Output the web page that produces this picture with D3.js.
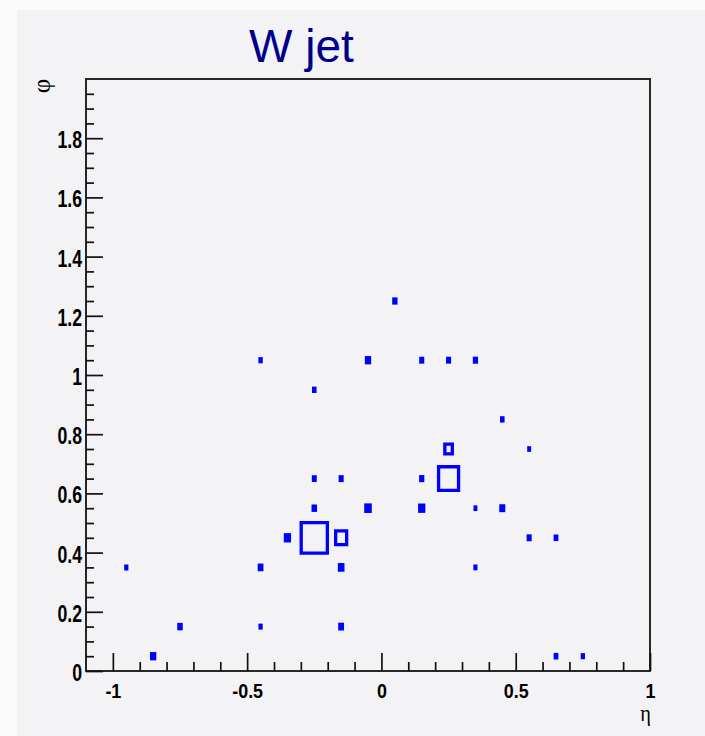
<!DOCTYPE html>
<html>
<head>
<meta charset="utf-8">
<script src="https://cdn.jsdelivr.net/npm/d3@7"></script>
<style>
  html, body { margin: 0; padding: 0; background: #fbfbfc; }
  svg { display: block; }
</style>
</head>
<body>
<svg id="chart" width="705" height="736"></svg>
<script>
// Jet constituents binned in (eta, phi): bin centres and deposited content
const etaCentres = [ 0.05, -0.45, -0.05, 0.15, 0.25, 0.35, -0.25, 0.45, 0.55, 0.25,
                    -0.25, -0.15, 0.15, 0.25, -0.25, -0.05, 0.15, 0.35, 0.45, -0.35,
                    -0.25, -0.15, 0.55, 0.65, -0.95, -0.45, -0.15, 0.35, -0.75, -0.45,
                    -0.15, -0.85, 0.65, 0.75];
const phiCentres = [ 1.25, 1.05, 1.05, 1.05, 1.05, 1.05, 0.95, 0.85, 0.75, 0.75,
                     0.65, 0.65, 0.65, 0.65, 0.55, 0.55, 0.55, 0.55, 0.55, 0.45,
                     0.45, 0.45, 0.45, 0.45, 0.35, 0.35, 0.35, 0.35, 0.15, 0.15,
                     0.15, 0.05, 0.05, 0.05];
const binContent = [ 0.42, 0.18, 0.77, 0.34, 0.34, 0.38, 0.22, 0.22, 0.10, 3.7,
                     0.30, 0.34, 0.38, 23.7, 0.48, 1.37, 1.22, 0.10, 0.65, 1.21,
                     40.0, 7.6, 0.34, 0.26, 0.15, 0.55, 0.92, 0.13, 0.48, 0.15,
                     0.60, 0.77, 0.26, 0.16];

const xTickLabels = [-1, -0.5, 0, 0.5, 1];
const yTickLabels = [0, 0.2, 0.4, 0.6, 0.8, 1, 1.2, 1.4, 1.6, 1.8];
const xRange = [-1.1, 1.0];
const yRange = [0, 2];
const binWidth = 0.1;
const titleText = "W jet";
const xTitle = "\u03B7";
const yTitle = "\u03C6";

const svg = d3.select("#chart");
const W = 705, H = 736;
const frame = { left: 86, right: 650, top: 79, bottom: 671 };

// pad
svg.append("rect")
  .attr("x", 17).attr("y", 10)
  .attr("width", W - 17).attr("height", H - 10)
  .attr("fill", "#f3f3f6");

const x = d3.scaleLinear().domain(xRange).range([frame.left, frame.right]);
const y = d3.scaleLinear().domain(yRange).range([frame.bottom, frame.top]);

// title
svg.append("text")
  .attr("x", 249).attr("y", 62)
  .attr("font-family", "'Liberation Sans', Arial, sans-serif")
  .attr("font-size", 46)
  .attr("fill", "#00008a")
  .text(titleText);

// boxes: area proportional to bin content, outlined with a thick pen
const zMax = d3.max(binContent);
const side = d3.scaleSqrt().domain([0, zMax]).range([0, 1]);
const bw = x(binWidth) - x(0);
const bh = y(0) - y(binWidth);
const lw = 3.3;

const bins = etaCentres.map((e, i) => {
  const f = side(binContent[i]);
  const ow = f * bw + 2.6, oh = f * bh + 4.2;   // outer extent of the outlined box
  return { cx: x(e), cy: y(phiCentres[i]), ow, oh };
});

function boxPath(d) {
  const x0 = d.cx - d.ow / 2, y0 = d.cy - d.oh / 2;
  let p = `M${x0},${y0}h${d.ow}v${d.oh}h${-d.ow}Z`;
  const iw = d.ow - 2 * lw, ih = d.oh - 2 * lw;
  if (iw > 2.5 && ih > 2.5) {
    p += `M${x0 + lw},${y0 + lw}v${ih}h${iw}v${-ih}Z`;
  }
  return p;
}

svg.append("g").selectAll("path")
  .data(bins)
  .join("path")
  .attr("d", boxPath)
  .attr("fill", "#0000ff")
  .attr("fill-rule", "evenodd");

// axes
const labelFont = "'Liberation Sans', Arial, Helvetica, sans-serif";

const xMinor = d3.range(-10, 11).map(i => i / 10).filter(v => Math.abs(v * 2 - Math.round(v * 2)) > 1e-6);
const yMinor = d3.range(0, 40).map(i => i * 0.05).filter(v => Math.abs(v * 5 - Math.round(v * 5)) > 1e-6);

const gx = svg.append("g").attr("transform", `translate(0,${frame.bottom})`);
gx.append("g").call(d3.axisBottom(x).tickValues(xMinor).tickSizeInner(-9).tickSizeOuter(0).tickFormat(""));
gx.append("g").attr("class", "major").call(
  d3.axisBottom(x).tickValues(xTickLabels).tickSizeInner(-18).tickSizeOuter(0).tickPadding(13.5)
    .tickFormat(d3.format("~g")));
gx.selectAll(".domain").remove();
gx.selectAll("line").attr("stroke", "#111").attr("stroke-width", 1.7);
gx.selectAll(".major text")
  .attr("font-family", labelFont).attr("font-weight", "bold").attr("font-size", 19.5)
  .attr("fill", "#000")
  .attr("transform", "scale(0.92,1)")
  .text(d => d3.format("~g")(d).replace("\u2212", "-"));

const gy = svg.append("g").attr("transform", `translate(${frame.left},0)`);
gy.append("g").call(d3.axisLeft(y).tickValues(yMinor).tickSizeInner(-8).tickSizeOuter(0).tickFormat(""));
gy.append("g").attr("class", "major").call(
  d3.axisLeft(y).tickValues(yTickLabels).tickSizeInner(-17).tickSizeOuter(0).tickPadding(5.2)
    .tickFormat(d3.format("~g")));
gy.selectAll(".domain").remove();
gy.selectAll("line").attr("stroke", "#111").attr("stroke-width", 1.7);
gy.selectAll(".major text")
  .attr("font-family", labelFont).attr("font-weight", "bold").attr("font-size", 23)
  .attr("fill", "#000")
  .attr("dy", "0.41em")
  .attr("transform", "scale(0.77,1)");

// frame
svg.append("rect")
  .attr("x", frame.left).attr("y", frame.top)
  .attr("width", frame.right - frame.left).attr("height", frame.bottom - frame.top)
  .attr("fill", "none").attr("stroke", "#111").attr("stroke-width", 1.8);

// axis titles
svg.append("text")
  .attr("transform", "translate(41,86) rotate(-90)")
  .attr("text-anchor", "middle").attr("dominant-baseline", "central")
  .attr("font-family", "'Liberation Serif', 'DejaVu Serif', serif")
  .attr("font-size", 25).attr("fill", "#000")
  .text(yTitle);

svg.append("text")
  .attr("transform", "translate(651,721) scale(0.85,1)")
  .attr("text-anchor", "end")
  .attr("font-family", "'Liberation Serif', 'DejaVu Serif', serif")
  .attr("font-size", 24).attr("fill", "#000")
  .text(xTitle);
</script>
</body>
</html>
